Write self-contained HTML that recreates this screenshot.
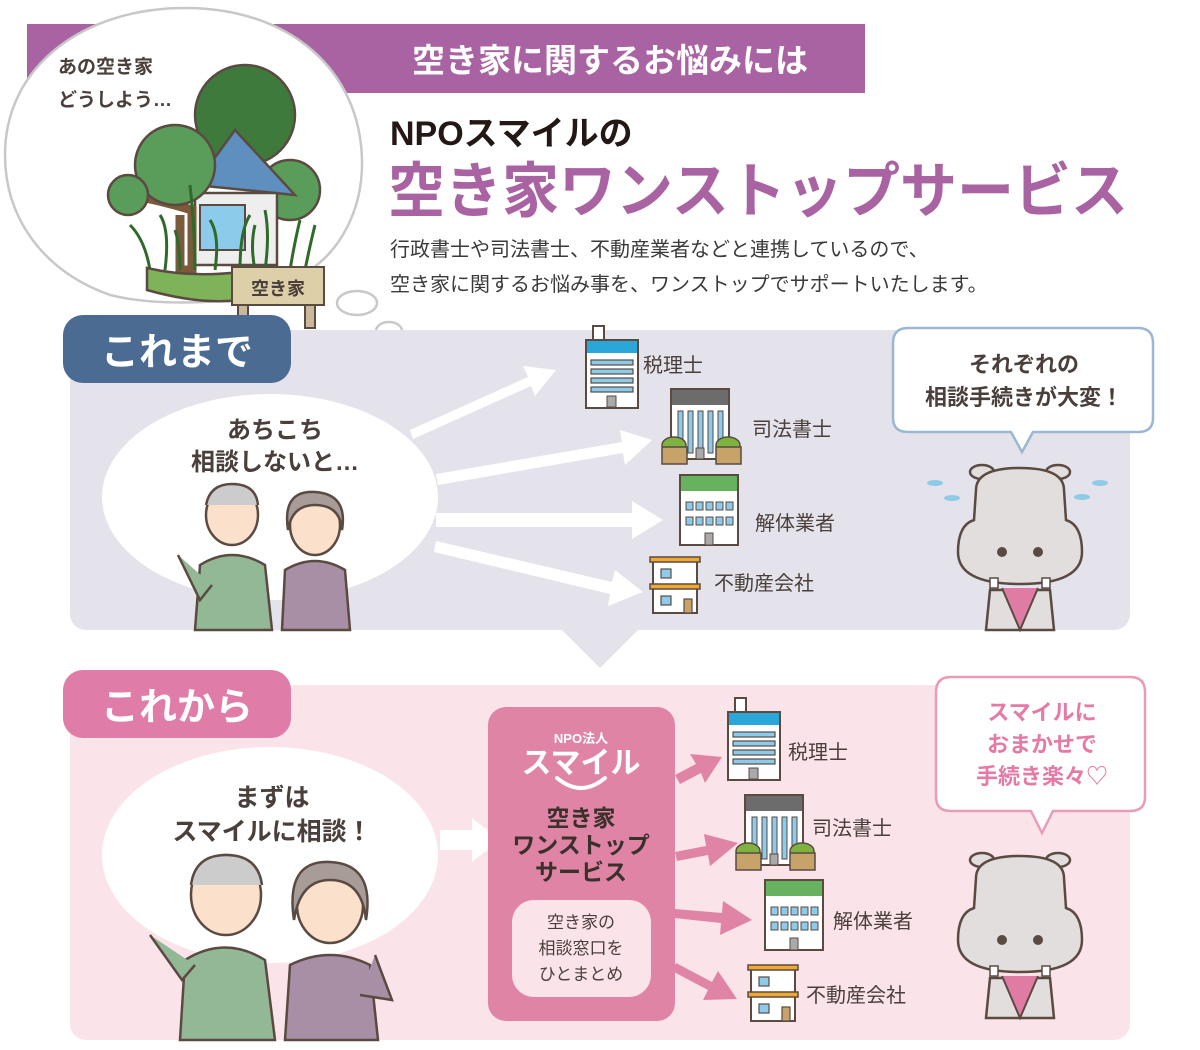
<!DOCTYPE html>
<html><head><meta charset="utf-8"><style>
html,body{margin:0;padding:0;background:#fff}
svg{display:block}
text{font-family:"Liberation Sans","Noto Sans CJK JP",sans-serif}
</style></head><body>
<svg width="1200" height="1050" viewBox="0 0 1200 1050" xmlns="http://www.w3.org/2000/svg">
<defs>
<g id="bA">
<rect x="7" y="0" width="11" height="14" fill="#fff" stroke="#5a4a42" stroke-width="2"/>
<rect x="0" y="14" width="52" height="68" fill="#fff" stroke="#5a4a42" stroke-width="2"/>
<rect x="1" y="15" width="50" height="12" fill="#2aa6d8"/>
<rect x="5" y="34" width="42" height="5" fill="#8ccbea" stroke="#5a4a42" stroke-width="1.2"/>
<rect x="5" y="43" width="42" height="5" fill="#8ccbea" stroke="#5a4a42" stroke-width="1.2"/>
<rect x="5" y="52" width="42" height="5" fill="#8ccbea" stroke="#5a4a42" stroke-width="1.2"/>
<rect x="5" y="61" width="42" height="5" fill="#8ccbea" stroke="#5a4a42" stroke-width="1.2"/>
<rect x="21" y="70" width="9" height="11" fill="#aaa" stroke="#5a4a42" stroke-width="1"/>
</g>
<g id="bB">
<rect x="9" y="0" width="58" height="70" fill="#fff" stroke="#5a4a42" stroke-width="2"/>
<rect x="10" y="1" width="56" height="15" fill="#6c6c6c"/>
<rect x="16" y="22" width="5" height="42" fill="#8ccbea" stroke="#5a4a42" stroke-width="1"/>
<rect x="26" y="22" width="5" height="42" fill="#8ccbea" stroke="#5a4a42" stroke-width="1"/>
<rect x="36" y="22" width="5" height="42" fill="#8ccbea" stroke="#5a4a42" stroke-width="1"/>
<rect x="46" y="22" width="5" height="42" fill="#8ccbea" stroke="#5a4a42" stroke-width="1"/>
<rect x="56" y="22" width="5" height="42" fill="#8ccbea" stroke="#5a4a42" stroke-width="1"/>
<rect x="34" y="59" width="8" height="11" fill="#aaa" stroke="#5a4a42" stroke-width="1"/>
<ellipse cx="12" cy="56" rx="12" ry="8" fill="#7fb33f" stroke="#5a4a42" stroke-width="1.5"/>
<rect x="0" y="58" width="25" height="17" fill="#c7a36a" stroke="#5a4a42" stroke-width="1.5"/>
<ellipse cx="66" cy="56" rx="12" ry="8" fill="#7fb33f" stroke="#5a4a42" stroke-width="1.5"/>
<rect x="54" y="58" width="25" height="17" fill="#c7a36a" stroke="#5a4a42" stroke-width="1.5"/>
</g>
<g id="bC">
<rect x="0" y="0" width="58" height="70" fill="#fff" stroke="#5a4a42" stroke-width="2"/>
<rect x="1" y="1" width="56" height="15" fill="#66b25e"/>
<g fill="#8ccbea" stroke="#5a4a42" stroke-width="1">
<rect x="6" y="27" width="7" height="8"/><rect x="16" y="27" width="7" height="8"/><rect x="26" y="27" width="7" height="8"/><rect x="36" y="27" width="7" height="8"/><rect x="46" y="27" width="7" height="8"/>
<rect x="6" y="42" width="7" height="8"/><rect x="16" y="42" width="7" height="8"/><rect x="26" y="42" width="7" height="8"/><rect x="36" y="42" width="7" height="8"/><rect x="46" y="42" width="7" height="8"/>
</g>
<rect x="25" y="58" width="8" height="12" fill="#aaa" stroke="#5a4a42" stroke-width="1"/>
</g>
<g id="bD">
<rect x="3" y="4" width="44" height="26" fill="#fff" stroke="#5a4a42" stroke-width="2"/>
<rect x="3" y="30" width="44" height="26" fill="#fff" stroke="#5a4a42" stroke-width="2"/>
<rect x="0" y="0" width="50" height="5" fill="#f0a830" stroke="#5a4a42" stroke-width="1.5"/>
<rect x="0" y="27" width="50" height="5" fill="#f0a830" stroke="#5a4a42" stroke-width="1.5"/>
<rect x="11" y="12" width="10" height="9" fill="#8ccbea" stroke="#5a4a42" stroke-width="1.2"/>
<rect x="11" y="39" width="10" height="9" fill="#8ccbea" stroke="#5a4a42" stroke-width="1.2"/>
<rect x="34" y="42" width="8" height="14" fill="#c7a36a" stroke="#5a4a42" stroke-width="1.2"/>
</g>
<g id="hippo">
<ellipse cx="-38" cy="-8" rx="12" ry="7" fill="#e2dedd" stroke="#5a4a42" stroke-width="2.5"/>
<ellipse cx="38" cy="-8" rx="12" ry="7" fill="#e2dedd" stroke="#5a4a42" stroke-width="2.5"/>
<path d="M-30 110 L-34 150 L34 150 L30 110Z" fill="#e2dedd" stroke="#5a4a42" stroke-width="2.5"/>
<path d="M-18 108 L0 150 L18 108" fill="#e07ca3" stroke="#5a4a42" stroke-width="2"/>
<path d="M-44 10 Q-44 -12 0 -12 Q44 -12 44 10 L46 40 Q62 45 62 72 Q62 104 0 104 Q-62 104 -62 72 Q-62 45 -46 40Z" fill="#e2dedd" stroke="#5a4a42" stroke-width="2.5"/>
<circle cx="-18" cy="72" r="5" fill="#5a4a42"/><circle cx="18" cy="72" r="5" fill="#5a4a42"/>
<rect x="-30" y="98" width="8" height="10" fill="#fff" stroke="#5a4a42" stroke-width="1.5"/>
<rect x="22" y="98" width="8" height="10" fill="#fff" stroke="#5a4a42" stroke-width="1.5"/>
</g>
</defs>

<!-- top banner -->
<rect x="27" y="24" width="838" height="69" fill="#a963a3"/>
<text x="610" y="72" font-size="33" font-weight="bold" fill="#fff" text-anchor="middle">空き家に関するお悩みには</text>

<!-- thought bubble -->
<path d="M185 8 C290 8 360 70 362 160 C363 210 340 250 310 270 L290 288 L250 295 C215 305 150 305 110 295 C40 270 5 215 5 155 C5 65 85 8 185 8Z" fill="#fff" stroke="#c8c8c8" stroke-width="2.5"/>
<ellipse cx="357" cy="303" rx="20" ry="12" fill="#fff" stroke="#c8c8c8" stroke-width="2.5"/>
<ellipse cx="389" cy="331" rx="13" ry="9" fill="#fff" stroke="#c8c8c8" stroke-width="2.5"/>
<text x="58" y="73" font-size="19" font-weight="bold" fill="#4a3f3a">あの空き家</text>
<text x="58" y="106" font-size="19" font-weight="bold" fill="#4a3f3a">どうしよう…</text>
<!-- house illustration -->
<circle cx="245" cy="115" r="50" fill="#3e7a3c" stroke="#5a4a42" stroke-width="2.5"/>
<circle cx="290" cy="190" r="30" fill="#5a9c5a" stroke="#5a4a42" stroke-width="2.5"/>
<path d="M195 185 L235 130 L295 195Z" fill="#5e8fbf" stroke="#5a4a42" stroke-width="2.5"/>
<rect x="195" y="193" width="82" height="72" fill="#eee" stroke="#5a4a42" stroke-width="2.5"/>
<rect x="200" y="205" width="45" height="45" fill="#8ccbea" stroke="#5a4a42" stroke-width="2"/>
<path d="M180 215 L180 270 L192 270 L192 210 Q160 200 130 195" fill="none" stroke="#7a5a3a" stroke-width="9"/>
<circle cx="175" cy="165" r="40" fill="#5a9c5a" stroke="#5a4a42" stroke-width="2.5"/>
<circle cx="128" cy="195" r="20" fill="#5a9c5a" stroke="#5a4a42" stroke-width="2.5"/>
<g stroke="#2f6a2a" stroke-width="3" fill="none">
<path d="M150 270 Q145 240 130 225"/><path d="M165 270 Q170 230 160 215"/><path d="M195 270 Q195 230 190 185"/><path d="M215 270 Q220 235 210 220"/><path d="M240 270 Q240 230 250 215"/><path d="M265 270 Q270 235 265 210"/><path d="M290 270 Q295 240 300 220"/><path d="M305 270 Q310 245 315 225"/><path d="M180 270 Q180 245 175 230"/><path d="M255 270 Q250 245 255 225"/>
</g>
<path d="M147 268 L147 290 Q200 305 240 300 L240 272 Q190 278 147 268Z" fill="#7fb35a" stroke="#5a4a42" stroke-width="2.5"/>
<rect x="238" y="273" width="10" height="55" fill="#c9b99a" stroke="#5a4a42" stroke-width="2"/>
<rect x="305" y="273" width="10" height="55" fill="#c9b99a" stroke="#5a4a42" stroke-width="2"/>
<rect x="232" y="267" width="92" height="38" fill="#ddd0a8" stroke="#5a4a42" stroke-width="2"/>
<text x="278" y="295" font-size="18" font-weight="bold" fill="#4a3f3a" text-anchor="middle">空き家</text>

<!-- titles -->
<text x="390" y="145" font-size="34" font-weight="bold" fill="#231815">NPOスマイルの</text>
<text x="388" y="212" font-size="60" font-weight="bold" fill="#a963a3" textLength="740" lengthAdjust="spacingAndGlyphs">空き家ワンストップサービス</text>
<text x="390" y="256" font-size="20" fill="#3a3a3a">行政書士や司法書士、不動産業者などと連携しているので、</text>
<text x="390" y="291" font-size="20" fill="#3a3a3a">空き家に関するお悩み事を、ワンストップでサポートいたします。</text>

<!-- これまで panel -->
<rect x="70" y="330" width="1060" height="300" rx="16" fill="#e4e2ea"/>
<path d="M560 628 L640 628 L600 668Z" fill="#e4e2ea"/>
<rect x="63" y="315" width="228" height="68" rx="20" fill="#4b6b93"/>
<text x="177" y="365" font-size="38" font-weight="bold" fill="#fff" text-anchor="middle">これまで</text>

<ellipse cx="270" cy="497" rx="168" ry="103" fill="#fff"/>
<text x="275" y="438" font-size="24" font-weight="bold" fill="#4a3f3a" text-anchor="middle">あちこち</text>
<text x="275" y="470" font-size="24" font-weight="bold" fill="#4a3f3a" text-anchor="middle">相談しないと…</text>
<!-- couple top -->
<path d="M195 630 L200 565 Q232 545 265 565 L272 630Z" fill="#93b895" stroke="#5a4a42" stroke-width="2.5"/>
<path d="M178 555 L200 600 L212 585" fill="#93b895" stroke="#5a4a42" stroke-width="2.5"/>
<ellipse cx="232" cy="515" rx="26" ry="30" fill="#fbe0cc" stroke="#5a4a42" stroke-width="2.5"/>
<path d="M206 505 Q210 484 232 484 Q256 484 258 505" fill="#ccc" stroke="#5a4a42" stroke-width="2.5"/>
<path d="M282 630 L285 570 Q315 552 345 570 L350 630Z" fill="#a88fa5" stroke="#5a4a42" stroke-width="2.5"/>
<ellipse cx="315" cy="525" rx="25" ry="30" fill="#fbe0cc" stroke="#5a4a42" stroke-width="2.5"/>
<path d="M288 530 Q282 490 315 492 Q348 494 342 530 Q340 505 315 505 Q292 505 288 530Z" fill="#a79c98" stroke="#5a4a42" stroke-width="2.5"/>

<!-- white arrows top -->
<g fill="#fff">
<path d="M410 430 L528 377 L523 366 L556 370 L535 396 L531 386 L413 439Z"/>
<path d="M436 474 L622 442 L620 430 L652 440 L625 465 L623 453 L438 485Z"/>
<path d="M436 513 L632 513 L632 501 L663 520 L632 539 L632 527 L436 527Z"/>
<path d="M436 541 L612 582 L615 570 L643 592 L608 606 L610 594 L434 552Z"/>
</g>
<use href="#bA" x="586" y="326"/>
<use href="#bB" x="662" y="389"/>
<use href="#bC" x="680" y="475"/>
<use href="#bD" x="650" y="557"/>
<g font-size="20" fill="#4a3f3a">
<text x="643" y="372">税理士</text>
<text x="752" y="436">司法書士</text>
<text x="755" y="530">解体業者</text>
<text x="714" y="590">不動産会社</text>
</g>

<!-- speech bubble top right -->
<path d="M908 328 L1138 328 Q1153 328 1153 343 L1153 418 Q1153 432 1138 432 L1033 432 L1022 452 L1011 432 L908 432 Q893 432 893 418 L893 343 Q893 328 908 328Z" fill="#fff" stroke="#9bb7d2" stroke-width="2.5"/>
<text x="1024" y="372" font-size="22" font-weight="bold" fill="#4a3f3a" text-anchor="middle">それぞれの</text>
<text x="1024" y="405" font-size="22" font-weight="bold" fill="#4a3f3a" text-anchor="middle">相談手続きが大変！</text>
<g fill="#8ecbe6"><ellipse cx="935" cy="483" rx="8" ry="3"/><ellipse cx="952" cy="498" rx="8" ry="3"/><ellipse cx="1100" cy="483" rx="8" ry="3"/><ellipse cx="1082" cy="497" rx="8" ry="3"/></g>
<use href="#hippo" x="1020" y="480"/>

<!-- これから panel -->
<rect x="70" y="685" width="1060" height="355" rx="16" fill="#fbe3ea"/>
<rect x="63" y="670" width="228" height="68" rx="20" fill="#e07ca8"/>
<text x="177" y="720" font-size="38" font-weight="bold" fill="#fff" text-anchor="middle">これから</text>

<ellipse cx="270" cy="855" rx="168" ry="108" fill="#fff"/>
<text x="272" y="806" font-size="25" font-weight="bold" fill="#4a3f3a" text-anchor="middle">まずは</text>
<text x="272" y="840" font-size="25" font-weight="bold" fill="#4a3f3a" text-anchor="middle">スマイルに相談！</text>
<!-- couple bottom -->
<path d="M180 1040 L185 960 Q225 935 265 960 L275 1040Z" fill="#93b895" stroke="#5a4a42" stroke-width="2.5"/>
<path d="M150 935 L182 980 L195 965" fill="#93b895" stroke="#5a4a42" stroke-width="2.5"/>
<ellipse cx="226" cy="895" rx="35" ry="40" fill="#fbe0cc" stroke="#5a4a42" stroke-width="2.5"/>
<path d="M191 885 Q195 855 226 855 Q258 855 262 885" fill="#ccc" stroke="#5a4a42" stroke-width="2.5"/>
<path d="M285 1040 L290 965 Q330 945 370 965 L378 1040Z" fill="#a88fa5" stroke="#5a4a42" stroke-width="2.5"/>
<path d="M375 955 L392 1000 L360 995" fill="#a88fa5" stroke="#5a4a42" stroke-width="2.5"/>
<ellipse cx="330" cy="905" rx="33" ry="38" fill="#fbe0cc" stroke="#5a4a42" stroke-width="2.5"/>
<path d="M294 920 Q285 860 330 862 Q375 864 366 920 Q362 880 330 880 Q300 880 294 920Z" fill="#a79c98" stroke="#5a4a42" stroke-width="2.5"/>

<path d="M440 830 L472 830 L472 818 L500 840 L472 862 L472 850 L440 850Z" fill="#fff"/>

<!-- center box -->
<rect x="488" y="707" width="187" height="314" rx="18" fill="#e084a6"/>
<text x="581" y="743" font-size="13" font-weight="bold" fill="#fff" text-anchor="middle">NPO法人</text>
<text x="581" y="773" font-size="30" font-weight="bold" fill="#fff" text-anchor="middle">スマイル</text>
<path d="M557 778 Q581 798 605 778" fill="none" stroke="#fff" stroke-width="4" stroke-linecap="round"/>
<g font-size="23" font-weight="bold" fill="#3a302c" text-anchor="middle">
<text x="581" y="826">空き家</text>
<text x="581" y="853">ワンストップ</text>
<text x="581" y="880">サービス</text>
</g>
<rect x="512" y="900" width="139" height="97" rx="22" fill="#fbe3ea"/>
<g font-size="17" fill="#4a3f3a" text-anchor="middle">
<text x="581" y="928">空き家の</text>
<text x="581" y="954">相談窓口を</text>
<text x="581" y="980">ひとまとめ</text>
</g>

<!-- pink arrows -->
<g fill="#e084a6">
<path d="M675 775 L696 764 L690 754 L722 757 L705 783 L701 773 L680 784Z"/>
<path d="M675 852 L706 846 L704 834 L738 843 L710 866 L708 855 L677 861Z"/>
<path d="M675 909 L722 913 L723 901 L752 920 L720 935 L721 923 L674 918Z"/>
<path d="M676 963 L712 982 L718 971 L737 999 L703 1000 L708 990 L672 971Z"/>
</g>
<use href="#bA" x="728" y="698"/>
<use href="#bB" x="736" y="795"/>
<use href="#bC" x="765" y="880"/>
<use href="#bD" x="748" y="965"/>
<g font-size="20" fill="#4a3f3a">
<text x="788" y="759">税理士</text>
<text x="812" y="835">司法書士</text>
<text x="833" y="928">解体業者</text>
<text x="806" y="1002">不動産会社</text>
</g>

<!-- pink bubble -->
<path d="M951 677 L1130 677 Q1145 677 1145 692 L1145 797 Q1145 811 1130 811 L1053 811 L1042 833 L1031 811 L951 811 Q936 811 936 797 L936 692 Q936 677 951 677Z" fill="#fff" stroke="#e99bb8" stroke-width="2.5"/>
<g font-size="22" font-weight="bold" fill="#e57aa6" text-anchor="middle">
<text x="1042" y="720">スマイルに</text>
<text x="1042" y="752">おまかせで</text>
<text x="1042" y="784">手続き楽々♡</text>
</g>
<use href="#hippo" x="1020" y="868"/>
</svg>
</body></html>
